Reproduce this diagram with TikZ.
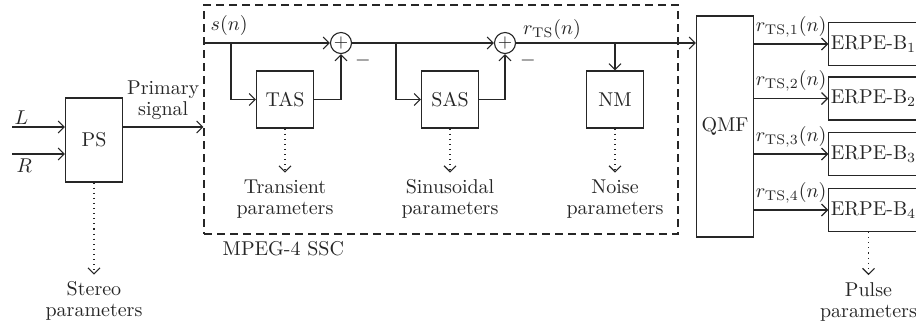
\documentclass[tikz,border=0pt]{standalone}
\usepackage{tikz}
\usetikzlibrary{arrows.meta, positioning}

\begin{document}
\begin{tikzpicture}[x=0.5pt, y=-0.5pt, line width=0.55pt, color=black!85,
    sig/.style={-{Straight Barb[length=3pt, width=6pt]}},
    par/.style={dotted, -{Straight Barb[length=3pt, width=6pt]}},
    blk/.style={draw, minimum width=28.5pt, minimum height=28.5pt, inner sep=1pt},
    erpe/.style={draw, minimum width=41pt, minimum height=21.5pt, inner sep=1pt},
    sum/.style={draw, circle, minimum size=10.5pt, inner sep=0pt, font=\small},
    plabel/.style={align=center, font=\fontsize{10}{10.5}\selectfont}]
    \useasboundingbox (0,0) rectangle (916,334);

    % Blocks
    \node[blk, minimum height=42pt] (ps) at (94,140) {PS};
    \node[draw, dash pattern=on 4pt off 2.5pt, minimum width=237pt, minimum height=114.5pt] (ssc) at (441,119.5) {};
    \node[blk] (tas) at (285,99.5) {TAS};
    \node[blk] (sas) at (450,99.5) {SAS};
    \node[blk] (nm) at (615,99.5) {NM};
    \node[blk, minimum height=110.5pt] (qmf) at (725,126.5) {QMF};
    \node[sum] (sum1) at (341,43) {$+$};
    \node[sum] (sum2) at (505,43) {$+$};

    % Inputs
    \coordinate (inL) at (12,127);
    \coordinate (inR) at (12,154);
    \draw[sig] (inL) -- (inL -| ps.west);
    \draw[sig] (inR) -- (inR -| ps.west);
    \node[anchor=south west, inner sep=1pt] (lblL) at (inL) {$L$};
    \node[anchor=north west, inner sep=2pt] (lblR) at (inR) {$R$};
    \draw[sig] (inL -| ps.east) -- (inL -| ssc.west)
        node[midway, above, plabel] (prim) {Primary\\signal};

    % Analysis chain
    \coordinate (br1) at (231,43);
    \coordinate (br2) at (396,43);
    \draw[sig] (ssc.west |- sum1) -- (sum1.west);
    \draw[sig] (br1) |- (tas.west);
    \draw[sig] (tas.east) -| (sum1.south);
    \draw[sig] (sum1.east) -- (sum2.west);
    \draw[sig] (br2) |- (sas.west);
    \draw[sig] (sas.east) -| (sum2.south);
    \draw[sig] (sum2.east) -- (qmf.west |- sum2);
    \draw[sig] (nm.north |- sum2) -- (nm.north);
    \node[anchor=south west] (sn) at (ssc.west |- sum1) {$s(n)$};
    \node (rts) at (552,29) {$r_{\mathrm{TS}}(n)$};
    \node (minus1) at (363,60) {$-$};
    \node (minus2) at (528,60) {$-$};
    \node[anchor=north west] (ssclbl) at ([xshift=6pt]ssc.south west) {MPEG-4 SSC};

    % Subbands
    \foreach \k/\y in {1/44,2/98.5,3/154,4/210} {
        \node[erpe] (erpe\k) at (873.5,\y) {ERPE-B$_\k$};
        \draw[sig] (qmf.east |- erpe\k) -- (erpe\k.west)
            node[midway, above] (rlbl\k) {$r_{\mathrm{TS},\k}(n)$};
    }

    % Parameters
    \node[plabel, below=46pt of ps] (stereo) {Stereo\\parameters};
    \draw[par] (ps.south) -- (stereo.north);
    \foreach \b/\t in {tas/Transient, sas/Sinusoidal, nm/Noise} {
        \node[plabel, below=22pt of \b] (\b par) {\t\\parameters};
        \draw[par] (\b.south) -- (\b par.north);
    }
    \node[plabel, below=21.5pt of erpe4, xshift=-2.5pt] (pulse) {Pulse\\parameters};
    \draw[par] (pulse.north |- erpe4.south) -- (pulse.north);

\end{tikzpicture}
\end{document}
